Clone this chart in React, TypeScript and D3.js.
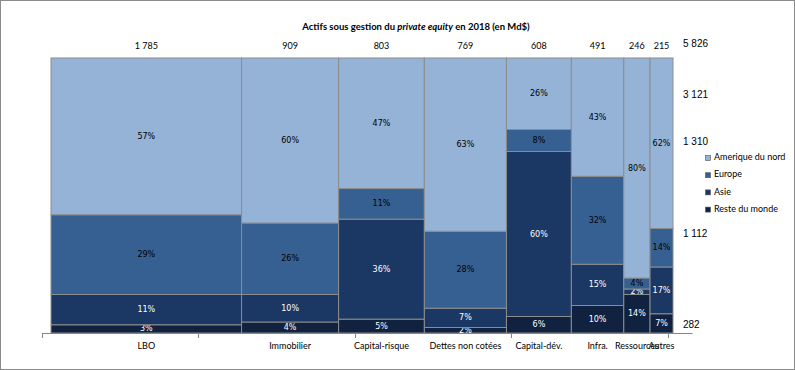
import React from "react";
import * as d3 from "d3";

const width = 795;
const height = 370;
const margin = { top: 58, right: 122, bottom: 37, left: 51 };

const innerWidth = width - margin.left - margin.right;
const innerHeight = height - margin.top - margin.bottom;

// categories (left to right) and their total assets, Md$
const categories = [
  "LBO",
  "Immobilier",
  "Capital-risque",
  "Dettes non cotées",
  "Capital-dév.",
  "Infra.",
  "Ressources",
  "Autres",
];
const totals = [1785, 909, 803, 769, 608, 491, 246, 215];

// region shares per category, %
const regions = ["Amerique du nord", "Europe", "Asie", "Reste du monde"];
const northAmerica = [57, 60, 47, 63, 26, 43, 80, 62];
const europe = [29, 26, 11, 28, 8, 32, 4, 14];
const asia = [11, 10, 36, 7, 60, 15, 2, 17];
const restOfWorld = [3, 4, 5, 2, 6, 10, 14, 7];

// totals by region, Md$ (labels on the right)
const regionTotals = [3121, 1310, 1112, 282];
const regionLabelLevels = [0.865, 0.695, 0.36, 0.029];

const colors = ["#95b3d7", "#376092", "#1b3763", "#10223f"];
const textColors = ["#000", "#000", "#fff", "#fff"];

const axisTicks = [0, 1, 2, 3, 4];

const fmt = (n: number) => d3.format(",")(n).replace(/,/g, " ");

const App = () => {
  const grandTotal = d3.sum(totals);
  const shares = [northAmerica, europe, asia, restOfWorld];

  const xScale = d3.scaleLinear().domain([0, grandTotal]).range([0, innerWidth]);
  const yScale = d3.scaleLinear().domain([0, 1]).range([innerHeight, 0]);
  const tickScale = d3.scaleLinear().domain([0, 4]).range([-9, 616.5]);

  let cum = 0;
  const columns = categories.map((c, i) => {
    const x0 = cum;
    cum += totals[i];
    // stack from the bottom: rest, asia, europe, north america
    const vals = shares.map((s) => s[i]);
    const sum = d3.sum(vals);
    let acc = 0;
    const segs = [3, 2, 1, 0].map((k) => {
      const y0 = acc / sum;
      acc += vals[k];
      return { k, y0, y1: acc / sum, v: vals[k] };
    });
    return { c, x0, x1: cum, total: totals[i], segs };
  });

  const labelFont = "Lato, 'Open Sans', sans-serif";

  return (
    <>
      <style>{"body{margin:0}"}</style>
      <svg width={width} height={height} style={{ display: "block" }}>
        <rect
          x={0.5}
          y={0.5}
          width={width - 1}
          height={height - 1}
          fill="#fff"
          stroke="#8a8a8a"
        />
        <text
          x={416}
          y={28}
          textAnchor="middle"
          dominantBaseline="middle"
          fontFamily={labelFont}
          fontWeight="bold"
          fontSize={9.5}
        >
          Actifs sous gestion du <tspan fontStyle="italic">private equity</tspan> en
          2018 (en Md$)
        </text>
        <g transform={`translate(${margin.left},${margin.top})`}>
          {columns.map((col) =>
            col.segs.map((s) => {
              const x = xScale(col.x0);
              const w = xScale(col.x1) - xScale(col.x0);
              const yTop = yScale(s.y1);
              const h = yScale(s.y0) - yScale(s.y1);
              return (
                <g key={col.c + s.k}>
                  <rect
                    x={x}
                    y={yTop}
                    width={w}
                    height={h}
                    fill={colors[s.k]}
                    stroke="#8c8c8c"
                    strokeWidth={1}
                  />
                  <text
                    x={x + w / 2}
                    y={yTop + h / 2}
                    textAnchor="middle"
                    dominantBaseline="central"
                    fontFamily="'DejaVu Sans', sans-serif"
                    fontSize={8}
                    fill={textColors[s.k]}
                  >
                    {s.v}%
                  </text>
                </g>
              );
            })
          )}
          {columns.map((col) => (
            <text
              key={"t" + col.c}
              x={xScale((col.x0 + col.x1) / 2)}
              y={-11}
              textAnchor="middle"
              dominantBaseline="middle"
              fontFamily={labelFont}
              fontSize={9}
            >
              {fmt(col.total)}
            </text>
          ))}
          {columns.map((col) => (
            <text
              key={"c" + col.c}
              x={xScale((col.x0 + col.x1) / 2)}
              y={innerHeight + 14}
              textAnchor="middle"
              dominantBaseline="middle"
              fontFamily={labelFont}
              fontSize={9}
            >
              {col.c}
            </text>
          ))}
          {/* x axis */}
          <line
            x1={tickScale(0)}
            x2={innerWidth + 19.5}
            y1={innerHeight + 0.5}
            y2={innerHeight + 0.5}
            stroke="#868686"
          />
          {axisTicks.map((t) => (
            <line
              key={"k" + t}
              x1={Math.round(tickScale(t)) + 0.5}
              x2={Math.round(tickScale(t)) + 0.5}
              y1={innerHeight}
              y2={innerHeight + 5}
              stroke="#868686"
            />
          ))}
          {/* totals on the right */}
          <text
            x={innerWidth + 10}
            y={yScale(1.051)}
            dominantBaseline="middle"
            fontFamily="'Liberation Sans', Arial, sans-serif"
            fontSize={10}
          >
            {fmt(grandTotal)}
          </text>
          {regionTotals.map((v, i) => (
            <text
              key={"r" + i}
              x={innerWidth + 10}
              y={yScale(regionLabelLevels[i])}
              dominantBaseline="middle"
              fontFamily="'Liberation Sans', Arial, sans-serif"
              fontSize={10}
            >
              {fmt(v)}
            </text>
          ))}
        </g>
        {/* legend */}
        <g transform="translate(705,158)">
          {regions.map((r, i) => (
            <g key={r} transform={`translate(0,${i * 17.2})`}>
              <rect
                x={0.5}
                y={-2.5}
                width={5}
                height={5}
                fill={colors[i]}
                stroke="#555"
                strokeWidth={0.6}
              />
              <text
                x={9}
                y={0}
                dominantBaseline="middle"
                fontFamily={labelFont}
                fontSize={9}
              >
                {r}
              </text>
            </g>
          ))}
        </g>
      </svg>
    </>
  );
};

export default App;
